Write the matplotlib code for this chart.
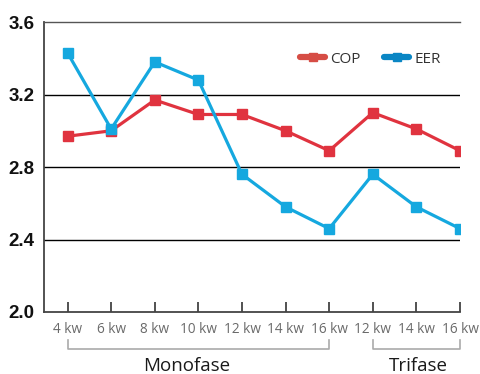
import matplotlib
matplotlib.use("Agg")
import matplotlib.pyplot as plt
from matplotlib.lines import Line2D

# Data
models = ["4 kw", "6 kw", "8 kw", "10 kw", "12 kw", "14 kw", "16 kw", "12 kw", "14 kw", "16 kw"]
cop = [2.97, 3.00, 3.17, 3.09, 3.09, 3.00, 2.89, 3.10, 3.01, 2.89]
eer = [3.43, 3.01, 3.38, 3.28, 2.76, 2.58, 2.46, 2.76, 2.58, 2.46]
yticks = [2.0, 2.4, 2.8, 3.2, 3.6]
# (label, first index, last index, label x position)
groups = [("Monofase", 0, 6, 2.73), ("Trifase", 7, 9, 8.05)]

RED = "#e0333f"
BLUE = "#15a8df"
RED_LEG = "#d64d45"
BLUE_LEG = "#0a86c4"

fig = plt.figure(figsize=(4.8, 3.74), dpi=100)
ax = fig.add_axes([0.0917, 0.1658, 0.8666, 0.7752])

x = list(range(len(models)))
ax.plot(x, cop, color=RED, lw=2.3, marker="s", ms=7.5, zorder=3)
ax.plot(x, eer, color=BLUE, lw=2.3, marker="s", ms=7.5, zorder=3)

ax.set_xlim(-0.54, 9)
ax.set_ylim(2.0, 3.6)
ax.set_yticks(yticks)
ax.set_yticklabels([f"{v:.1f}" for v in yticks], fontsize=13.5, fontweight="bold",
                   family="Liberation Sans", color="#111111")
for v in yticks[1:-1]:
    ax.axhline(v, color="black", lw=1.0, zorder=1)
ax.tick_params(axis="y", length=0, pad=7)

ax.set_xticks(x)
ax.set_xticklabels(models, fontsize=9.8, color="#6a6a6a", family="Open Sans")
ax.tick_params(axis="x", direction="in", length=7, width=1.2, color="#333333", pad=7)

for side in ["left", "bottom"]:
    ax.spines[side].set_color("#444444")
    ax.spines[side].set_linewidth(1.3)
ax.spines["right"].set_visible(False)
ax.spines["top"].set_color("#555555")
ax.spines["top"].set_linewidth(1.0)

# group brackets beneath the tick labels
for name, i0, i1, xl in groups:
    y_top, y_bot = -0.097, -0.128
    ax.plot([i0, i0, i1, i1], [y_top, y_bot, y_bot, y_top], color="#aaaaaa", lw=1.2,
            transform=ax.get_xaxis_transform(), clip_on=False)
    ax.text(xl, -0.185, name, transform=ax.get_xaxis_transform(),
            ha="center", va="center", fontsize=13.5, color="#1a1a1a", family="Open Sans")

handles = [
    Line2D([], [], color=RED_LEG, lw=4.5, solid_capstyle="round", marker="s", ms=6),
    Line2D([], [], color=BLUE_LEG, lw=4.5, solid_capstyle="round", marker="s", ms=6),
]
ax.legend(handles, ["COP", "EER"], loc="upper right", bbox_to_anchor=(0.987, 0.945), ncol=2,
          frameon=False, handlelength=1.65, handletextpad=0.33, columnspacing=1.55,
          prop={"family": "Open Sans", "size": 11}, labelcolor="#333333")

fig.savefig("out.png", dpi=100)
